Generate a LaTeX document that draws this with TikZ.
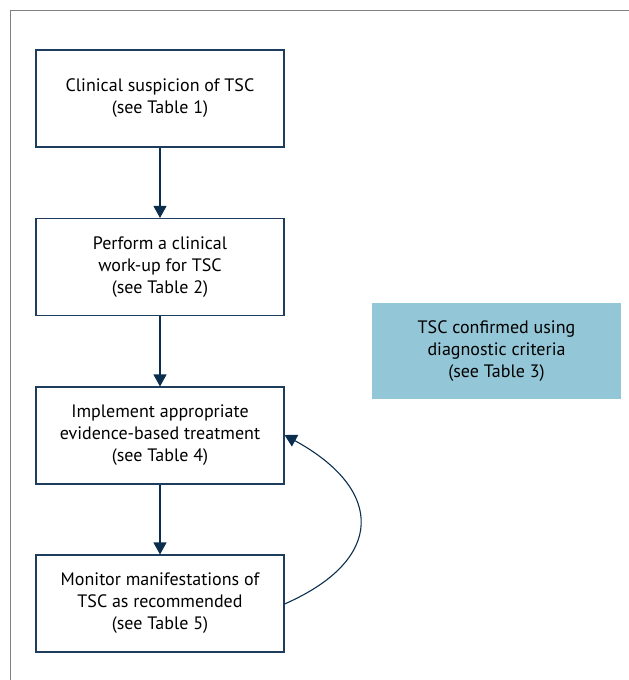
\documentclass[tikz,border=0pt]{standalone}
\usepackage{fontspec}
\setmainfont{PT Sans}
\usetikzlibrary{arrows.meta}
\definecolor{navy}{HTML}{0B2E4F}
\definecolor{boxline}{HTML}{1E3D5C}
\definecolor{teal}{HTML}{93C6D6}
\definecolor{framegray}{HTML}{808080}
\begin{document}
\begin{tikzpicture}[x=1pt,y=-1pt,
  flowbox/.style={draw=boxline,line width=1.1pt,minimum width=248pt,minimum height=97pt,align=center,font=\fontsize{18}{22}\selectfont,inner sep=0pt},
  notebox/.style={fill=teal,minimum width=249pt,minimum height=96pt,align=center,font=\fontsize{18}{22}\selectfont,inner sep=0pt},
  flowarrow/.style={draw=navy,line width=1.1pt,-{Triangle[width=13pt,length=12pt]}}]
\useasboundingbox (0,0) rectangle (629,680);
\draw[framegray,line width=1.4pt] (10.5,681) -- (10.5,10.5) -- (630,10.5);
\node[flowbox] (b1) at (160,98.5) {Clinical suspicion of TSC\\(see Table 1)};
\node[flowbox] (b2) at (160,267) {Perform a clinical\\work-up for TSC\\(see Table 2)};
\node[flowbox] (b3) at (160,435.5) {Implement appropriate\\evidence-based treatment\\(see Table 4)};
\node[flowbox] (b4) at (160,603.5) {Monitor manifestations of\\TSC as recommended\\(see Table 5)};
\node[notebox] (n) at (496.5,351) {TSC confirmed using\\diagnostic criteria\\(see Table 3)};
\draw[flowarrow] (b1) -- (b2);
\draw[flowarrow] (b2) -- (b3);
\draw[flowarrow] (b3) -- (b4);
\draw[flowarrow] (b4.east) ++(0,0.5) .. controls (385,560) and (385,490) .. ([yshift=0.5pt]b3.east);
\end{tikzpicture}
\end{document}
